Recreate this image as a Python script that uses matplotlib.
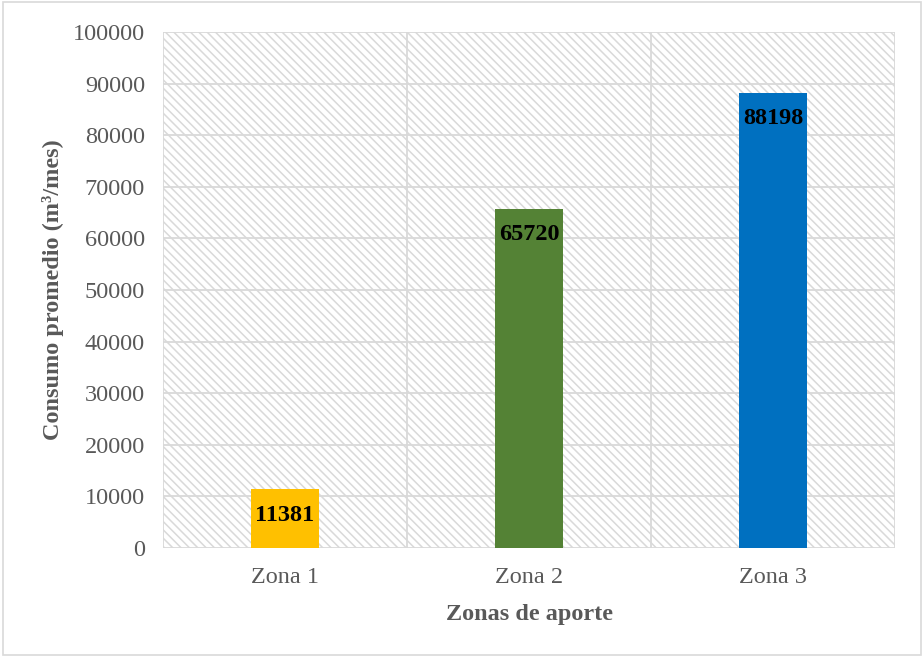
import matplotlib.pyplot as plt
from matplotlib.patches import Rectangle

categories = ["Zona 1", "Zona 2", "Zona 3"]
values = [11381, 65720, 88198]
colors = ["#FFC000", "#548235", "#0070C0"]
yticks = [0, 10000, 20000, 30000, 40000, 50000, 60000, 70000, 80000, 90000, 100000]

plt.rcParams['font.family'] = ['Liberation Serif', 'DejaVu Serif']
plt.rcParams['hatch.color'] = '#D9D9D9'
plt.rcParams['hatch.linewidth'] = 1.1

fig = plt.figure(figsize=(9.24, 6.57), dpi=100)
fig.patch.set_facecolor('white')
# outer chart border
fig.add_artist(Rectangle((0.003, 0.003), 0.994, 0.994, transform=fig.transFigure,
                         fill=False, edgecolor='#D9D9D9', linewidth=1.2))

ax = fig.add_axes([163 / 924, 1 - 548 / 657, (895 - 163) / 924, (548 - 32) / 657])

x = list(range(len(categories)))
ax.set_xlim(-0.5, len(categories) - 0.5)
ax.set_ylim(0, 100000)

# hatched plot-area background
ax.add_patch(Rectangle((0, 0), 1, 1, transform=ax.transAxes, facecolor='white',
                       edgecolor='#D9D9D9', linewidth=0, hatch='\\\\\\\\', zorder=0.5))

# gridlines
for t in yticks:
    ax.axhline(t, color='#D9D9D9', linewidth=1.3, zorder=1)
for b in [-0.5, 0.5, 1.5, 2.5]:
    ax.axvline(b, color='#D9D9D9', linewidth=1.3, zorder=1)

bars = ax.bar(x, values, width=0.275, color=colors, zorder=3)
for xi, v in zip(x, values):
    ax.annotate(f"{v}", (xi, v), xytext=(0, -26), textcoords='offset pixels',
                ha='center', va='center', fontsize=17.5, fontweight='bold',
                color='black', zorder=4)

ax.set_xticks(x)
ax.set_xticklabels(categories)
ax.set_yticks(yticks)
ax.set_yticklabels([str(t) for t in yticks])
ax.tick_params(axis='both', length=0, labelsize=17.5, colors='#595959')
ax.tick_params(axis='y', pad=13)
ax.tick_params(axis='x', pad=14)

for s in ax.spines.values():
    s.set_visible(False)

ax.set_xlabel("Zonas de aporte", fontsize=17.5, fontweight='bold', color='#595959', labelpad=11)
ax.set_ylabel("Consumo promedio (m³/mes)", fontsize=17.5, fontweight='bold',
              color='#595959', labelpad=6)

fig.savefig("out.png", dpi=100, facecolor='white')
